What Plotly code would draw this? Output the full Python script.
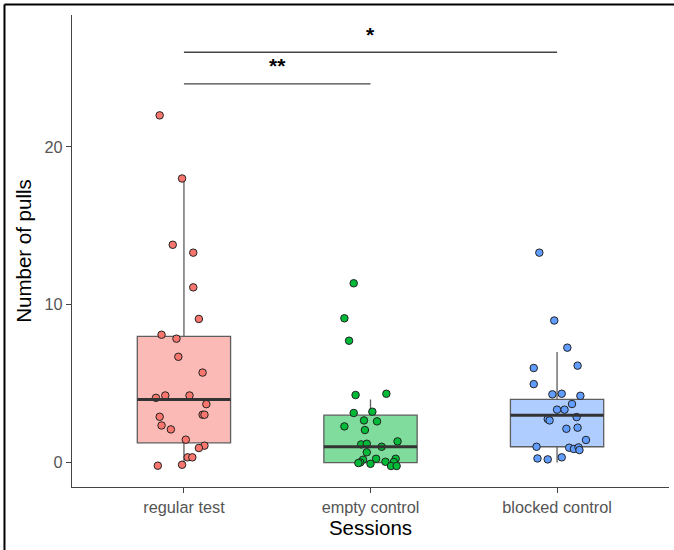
import plotly.graph_objects as go

categories = ["regular test", "empty control", "blocked control"]

regular_values = [22.0, 18.0, 13.8, 13.3, 11.1, 9.1, 8.1, 7.85, 6.7, 5.7, 4.1, 4.25, 4.25,
                  3.7, 3.03, 3.03, 2.9, 2.35, 2.1, 1.45, 1.07, 0.92, 0.33, 0.33, -0.2, -0.14]
regular_jitter = [-0.13, -0.01, -0.06, 0.05, 0.05, 0.08, -0.12, -0.04, -0.03, 0.10, -0.15,
                  -0.10, 0.03, 0.12, 0.10, 0.11, -0.13, -0.12, -0.07, 0.01, 0.11, 0.08,
                  0.02, 0.045, -0.14, -0.01]

empty_values = [11.36, 9.14, 7.72, 4.28, 4.36, 3.22, 3.14, 2.67, 2.61, 2.29, 2.06, 1.34, 1.15,
                1.19, 1.0, 0.65, 0.24, 0.18, 0.01, -0.03, -0.08, 0.05, 0.24, 0.03, -0.22, -0.22]
empty_jitter = [-0.09, -0.14, -0.115, -0.08, 0.085, 0.01, -0.09, -0.035, 0.035, -0.14, -0.03,
                0.145, -0.05, -0.02, 0.06, -0.02, 0.03, -0.04, -0.055, -0.065, 0.0, 0.08,
                0.135, 0.125, 0.11, 0.14]

blocked_values = [13.3, 9.0, 7.28, 5.99, 6.14, 4.97, 4.32, 4.36, 4.23, 3.71, 3.35, 3.35, 2.88,
                  2.76, 2.67, 2.14, 2.21, 1.43, 1.0, 0.94, 0.86, 0.96, 0.79, 0.26, 0.2, 0.33]
blocked_jitter = [-0.095, -0.015, 0.055, -0.125, 0.11, -0.125, -0.025, 0.025, 0.125, 0.08,
                  0.0, 0.04, 0.105, -0.05, -0.04, 0.05, 0.11, 0.155, -0.11, 0.065, 0.09,
                  0.115, 0.12, -0.105, -0.05, 0.025]

box_q1 = [1.25, 0.0, 1.0]
box_median = [4.0, 1.0, 3.0]
box_q3 = [8.0, 3.0, 4.0]
box_lower = [0.0, 0.0, 0.0]
box_upper = [18.0, 4.0, 7.0]

point_colors = ["#F8766D", "#00BA38", "#619CFF"]
box_fills = ["#FBBAB6", "#80DC9C", "#B0CDFF"]

sig_pairs = [(1, 2), (1, 3)]
sig_heights = [24.0, 26.0]
sig_labels = ["**", "*"]

groups_values = [regular_values, empty_values, blocked_values]
groups_jitter = [regular_jitter, empty_jitter, blocked_jitter]

BOX_W = 0.5
fig = go.Figure()

for i in range(3):
    xpos = i + 1
    fig.add_trace(go.Box(
        x=[xpos], q1=[box_q1[i]], median=[box_median[i]], q3=[box_q3[i]],
        lowerfence=[box_lower[i]], upperfence=[box_upper[i]],
        width=BOX_W, whiskerwidth=0, fillcolor=box_fills[i],
        line=dict(color="#5E5E5E", width=1.3), boxpoints=False,
        showlegend=False, hoverinfo="skip"))
    fig.add_shape(type="line", xref="x", yref="y",
                  x0=xpos - BOX_W / 2, x1=xpos + BOX_W / 2,
                  y0=box_median[i], y1=box_median[i],
                  line=dict(color="#333333", width=3), layer="above")

for i in range(3):
    xs = [i + 1 + j for j in groups_jitter[i]]
    fig.add_trace(go.Scatter(
        x=xs, y=groups_values[i], mode="markers",
        marker=dict(size=7.5, color=point_colors[i], line=dict(color="#222222", width=1)),
        showlegend=False, hoverinfo="skip"))

for (a, b), h, lab in zip(sig_pairs, sig_heights, sig_labels):
    fig.add_shape(type="line", xref="x", yref="y", x0=a, x1=b, y0=h, y1=h,
                  line=dict(color="#444444", width=1.3))
    fig.add_annotation(x=(a + b) / 2, y=h + 1.15, text="<b>%s</b>" % lab, showarrow=False,
                       font=dict(size=21, color="black", family="Liberation Sans, Arial"))

# outer frame (top and left edges visible)
fig.add_shape(type="line", xref="paper", yref="paper", x0=-0.1131, x1=1.02, y0=1.0222, y1=1.0222,
              line=dict(color="black", width=2))
fig.add_shape(type="line", xref="paper", yref="paper", x0=-0.1131, x1=-0.1131, y0=-0.2, y1=1.0222,
              line=dict(color="black", width=2))

fig.update_layout(
    width=674, height=550,
    margin=dict(l=72, r=5, t=15, b=63),
    paper_bgcolor="white", plot_bgcolor="white",
    font=dict(family="Liberation Sans, Arial", color="#555555"),
    xaxis=dict(range=[0.4, 3.6], tickvals=[1, 2, 3], ticktext=categories, automargin=False,
               showline=True, linecolor="#444444", linewidth=1.2, showgrid=False, zeroline=False,
               ticks="outside", ticklen=5, tickcolor="#444444",
               tickfont=dict(size=16.3, color="#555555"),
               title=dict(text="Sessions", font=dict(size=20.5, color="black"), standoff=5)),
    yaxis=dict(range=[-1.55, 28.36], tickvals=[0, 10, 20], automargin=False,
               showline=True, linecolor="#444444", linewidth=1.2, showgrid=False, zeroline=False,
               ticks="outside", ticklen=5, tickcolor="#444444",
               tickfont=dict(size=16.3, color="#555555"),
               title=dict(text="Number of pulls", font=dict(size=20.5, color="black"), standoff=7)),
)

fig.write_html("out.html", config={"displayModeBar": False},
               post_script="document.body.style.margin='0';")
